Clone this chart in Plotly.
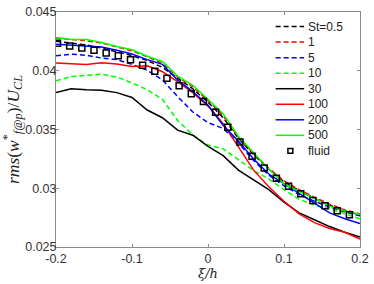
import plotly.graph_objects as go

xi = [-0.2, -0.18, -0.16, -0.14, -0.12, -0.1, -0.08, -0.06, -0.04, -0.02, 0.0,
      0.02, 0.04, 0.06, 0.08, 0.1, 0.12, 0.14, 0.16, 0.18, 0.2]

st_05 = [0.04252, 0.04236, 0.04219, 0.04194, 0.04161, 0.04128, 0.04087, 0.04029, 0.03938, 0.03847, 0.03732,
         0.03600, 0.03426, 0.03286, 0.03162, 0.03055, 0.02980, 0.02914, 0.02856, 0.02807, 0.02774]
st_1 = [0.04277, 0.04269, 0.04256, 0.04236, 0.04203, 0.04170, 0.04120, 0.04062, 0.03947, 0.03864, 0.03748,
        0.03616, 0.03434, 0.03294, 0.03170, 0.03063, 0.02988, 0.02922, 0.02865, 0.02815, 0.02782]
st_5 = [0.04128, 0.04141, 0.04132, 0.04108, 0.04095, 0.04054, 0.04004, 0.03922, 0.03781, 0.03649, 0.03558,
        0.03509, 0.03385, 0.03236, 0.03112, 0.03021, 0.02947, 0.02889, 0.02840, 0.02799, 0.02765]
st_10 = [0.03914, 0.03951, 0.03960, 0.03971, 0.03946, 0.03897, 0.03839, 0.03757, 0.03577, 0.03453, 0.03368,
         0.03335, 0.03244, 0.03150, 0.03079, 0.02988, 0.02906, 0.02856, 0.02823, 0.02782, 0.02741]
st_30 = [0.03814, 0.03847, 0.03839, 0.03835, 0.03814, 0.03773, 0.03666, 0.03600, 0.03495, 0.03451, 0.03356,
         0.03278, 0.03154, 0.03071, 0.02988, 0.02881, 0.02790, 0.02732, 0.02674, 0.02625, 0.02585]
st_100 = [0.04066, 0.04062, 0.04054, 0.04068, 0.04058, 0.04037, 0.04042, 0.03992, 0.03908, 0.03814, 0.03699,
          0.03550, 0.03352, 0.03154, 0.03013, 0.02889, 0.02782, 0.02707, 0.02658, 0.02625, 0.02567]
st_200 = [0.04225, 0.04219, 0.04215, 0.04203, 0.04174, 0.04142, 0.04095, 0.04054, 0.03922, 0.03823, 0.03707,
          0.03534, 0.03401, 0.03249, 0.03121, 0.03038, 0.02955, 0.02873, 0.02790, 0.02741, 0.02699]
st_500 = [0.04282, 0.04266, 0.04265, 0.04240, 0.04207, 0.04178, 0.04124, 0.04079, 0.03955, 0.03876, 0.03757,
          0.03633, 0.03443, 0.03302, 0.03162, 0.03038, 0.02972, 0.02914, 0.02848, 0.02807, 0.02778]

xi_fluid = [-0.198, -0.182, -0.166, -0.150, -0.134, -0.118, -0.102, -0.086, -0.070, -0.054, -0.038,
            -0.022, -0.006, 0.010, 0.026, 0.042, 0.058, 0.074, 0.090, 0.106, 0.122, 0.138, 0.154, 0.170, 0.186]
fluid = [0.04233, 0.04211, 0.04194, 0.04175, 0.04151, 0.04128, 0.04093, 0.04046, 0.03996, 0.03936, 0.03872,
         0.03804, 0.03738, 0.03647, 0.03520, 0.03393, 0.03272, 0.03173, 0.03085, 0.03016, 0.02954, 0.02895,
         0.02851, 0.02809, 0.02774]

x_ticks = [-0.2, -0.1, 0, 0.1, 0.2]
x_tick_labels = ["-0.2", "-0.1", "0", "0.1", "0.2"]
y_ticks = [0.025, 0.03, 0.035, 0.04, 0.045]
y_tick_labels = ["0.025", "0.03", "0.035", "0.04", "0.045"]

legend_names = ["St=0.5", "1", "5", "10", "30", "100", "200", "500", "fluid"]

series = [
    (st_05, "#000000", "5px,3px"),
    (st_1, "#ff0000", "5px,3px"),
    (st_5, "#0000ff", "5px,3px"),
    (st_10, "#00ff00", "5px,3px"),
    (st_30, "#000000", "solid"),
    (st_100, "#ff0000", "solid"),
    (st_200, "#0000ff", "solid"),
    (st_500, "#00ff00", "solid"),
]

W, H = 374, 284
ML, MR, MT, MB = 56, 8, 5, 37
PW, PH = W - ML - MR, H - MT - MB


def px_x(p):
    return (p - ML) / PW


def px_y(p):
    return (H - MB - p) / PH


fig = go.Figure()
for (ys, col, dash), name in zip(series, legend_names):
    fig.add_trace(go.Scatter(x=xi, y=ys, mode="lines", name=name, showlegend=False,
                             line=dict(color=col, width=1.5, dash=dash)))
fig.add_trace(go.Scatter(x=xi_fluid, y=fluid, mode="markers", name="fluid", showlegend=False,
                         marker=dict(symbol="square-open", color="#000000", size=6,
                                     line=dict(width=1.5, color="#000000"))))

# manual legend (MATLAB-like compact spacing)
row_y = [20, 36, 52, 68, 84, 100, 116, 132, 148]
shapes = []
annotations = []
for i, name in enumerate(legend_names):
    yy = px_y(row_y[i])
    if i < len(series):
        _, col, dash = series[i]
        shapes.append(dict(type="line", xref="paper", yref="paper",
                           x0=px_x(280), x1=px_x(309), y0=yy, y1=yy,
                           line=dict(color=col, width=1.5, dash=dash)))
    else:
        shapes.append(dict(type="rect", xref="paper", yref="paper",
                           x0=px_x(292.5), x1=px_x(297.5), y0=px_y(row_y[i] + 2.5), y1=px_y(row_y[i] - 2.5),
                           line=dict(color="#000000", width=1.5)))
    annotations.append(dict(text=name, xref="paper", yref="paper", x=px_x(311), y=yy,
                            xanchor="left", yanchor="middle", showarrow=False,
                            font=dict(family="Liberation Sans, Arial", size=12, color="#222222")))

axis_common = dict(showgrid=False, zeroline=False, showline=True, mirror="ticks",
                   linecolor="#8c8c8c", linewidth=1, ticks="inside", ticklen=3,
                   tickcolor="#8c8c8c", ticklabeloverflow="allow",
                   tickfont=dict(family="Liberation Sans, Arial", size=12.5, color="#333333"))

fig.update_layout(
    width=W, height=H,
    margin=dict(l=ML, r=MR, t=MT, b=MB),
    paper_bgcolor="white", plot_bgcolor="white",
    showlegend=False,
    shapes=shapes,
    annotations=annotations,
    xaxis=dict(range=[-0.2, 0.2], tickvals=x_ticks, ticktext=x_tick_labels,
               title=dict(text="<i>ξ/h</i>", font=dict(family="DejaVu Serif, Liberation Serif", size=13, color="#222222"), standoff=3),
               **axis_common),
    yaxis=dict(range=[0.025, 0.045], tickvals=y_ticks, ticktext=y_tick_labels,
               ticklabelstandoff=-4,
               title=dict(text="<i>rms</i>(<i>w</i><sup>*</sup><sub><i>f@p</i></sub>)/<i>U</i><sub><i>CL</i></sub>",
                          font=dict(family="Liberation Serif, DejaVu Serif", size=17.5, color="#222222"), standoff=0),
               **axis_common),
)

fig.write_html("out.html", config={"displayModeBar": False},
               post_script="document.body.style.margin='0';document.body.style.padding='0';document.body.style.overflow='hidden';")
